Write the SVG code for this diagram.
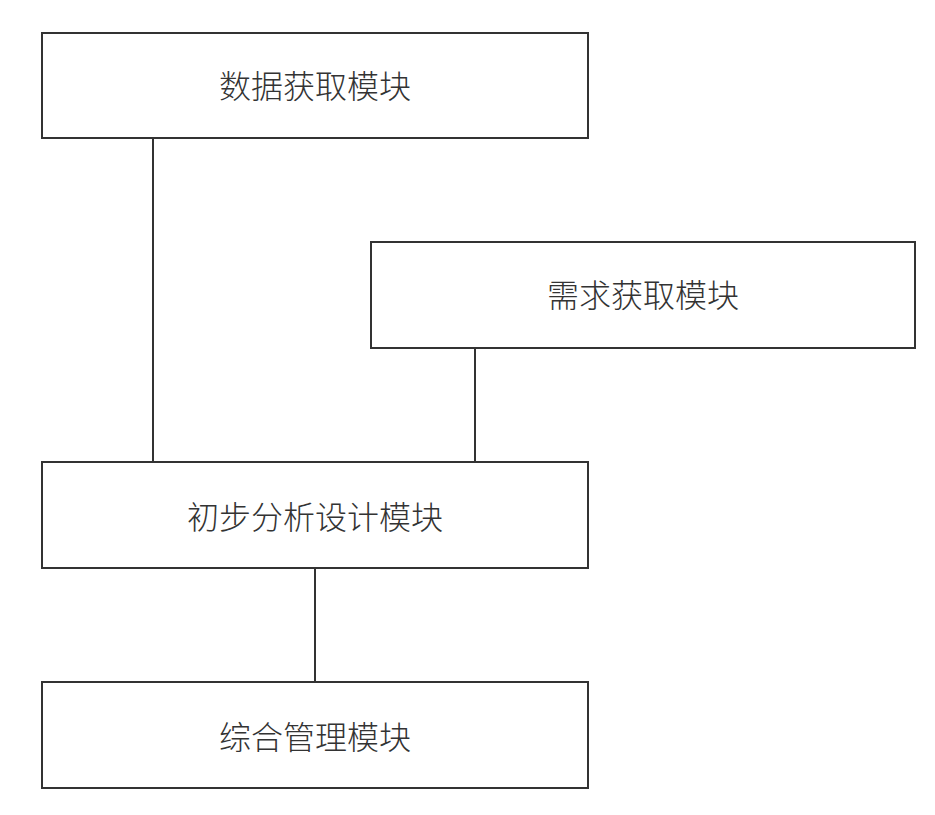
<svg xmlns="http://www.w3.org/2000/svg" width="935" height="815" viewBox="0 0 935 815">
<style>
.box{fill:#fff;stroke:#333;stroke-width:2}
.t{font-family:"Liberation Sans","Noto Sans CJK SC",sans-serif;font-size:32px;font-weight:300;fill:#333;text-anchor:middle;dominant-baseline:central}
.c{stroke:#333;stroke-width:2;fill:none}
</style>
<rect width="935" height="815" fill="#fff"/>
<g id="connectors">
<line class="c" x1="153" y1="138" x2="153" y2="462"/>
<line class="c" x1="475" y1="348" x2="475" y2="462"/>
<line class="c" x1="315" y1="568" x2="315" y2="682"/>
</g>
<g id="n1"><rect class="box" x="42" y="33" width="546" height="105"/><text class="t" x="315" y="87">数据获取模块</text></g>
<g id="n2"><rect class="box" x="371" y="242" width="544" height="106"/><text class="t" x="643" y="296">需求获取模块</text></g>
<g id="n3"><rect class="box" x="42" y="462" width="546" height="106"/><text class="t" x="315" y="518">初步分析设计模块</text></g>
<g id="n4"><rect class="box" x="42" y="682" width="546" height="106"/><text class="t" x="315" y="738">综合管理模块</text></g>
</svg>
